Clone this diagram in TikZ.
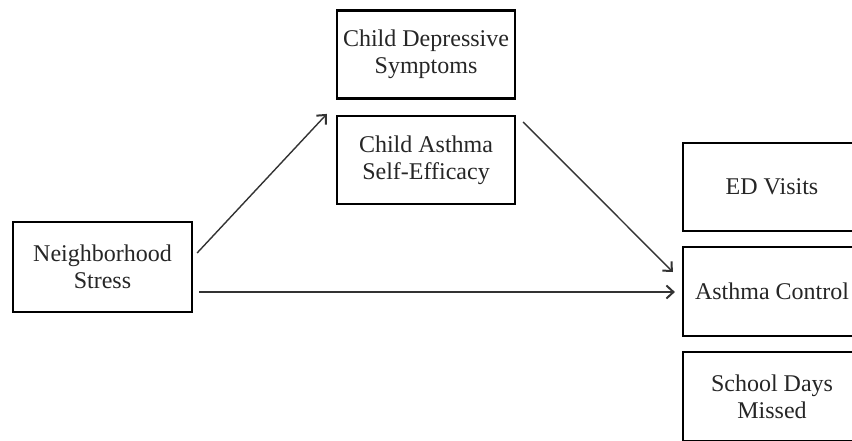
\documentclass[tikz,border=0pt]{standalone}
\usepackage{fontspec}
\setmainfont{Liberation Serif}
\usetikzlibrary{arrows.meta}
\begin{document}
\begin{tikzpicture}[x=1pt,y=-1pt,
  box/.style={draw=black,line width=2.2pt,minimum width=178pt,minimum height=88pt,inner sep=0pt,align=center,font=\fontsize{24}{27}\selectfont,text=black!85},
  link/.style={draw=black!80,line width=1.4pt,-{Straight Barb[length=7pt,width=13pt,line width=2pt]}}]
\clip (0,0) rectangle (852,440);
\fill[white] (0,0) rectangle (852,440);
\node[box] (cds) at (426,54.5) {Child Depressive\\Symptoms};
\node[box] (case) at (426,160) {Child Asthma\\Self-Efficacy};
\node[box,minimum width=179pt,minimum height=90pt] (ns) at (102.5,267) {Neighborhood\\Stress};
\node[box] (ed) at (772,187) {ED Visits};
\node[box,minimum height=89pt] (ac) at (772,291.5) {Asthma Control};
\node[box,minimum height=89pt] (sdm) at (772,396.5) {School Days\\Missed};
\draw[link] ([xshift=4pt,yshift=14pt]ns.east) -- ([xshift=-9pt,yshift=1pt]case.north west);
\draw[link] ([xshift=7pt,yshift=-7pt]case.north east) -- ([xshift=-9pt,yshift=19.5pt]ac.west);
\draw[link] ([xshift=6pt,yshift=-25pt]ns.east) -- ([xshift=-7pt,yshift=-0.5pt]ac.west);
\end{tikzpicture}
\end{document}
